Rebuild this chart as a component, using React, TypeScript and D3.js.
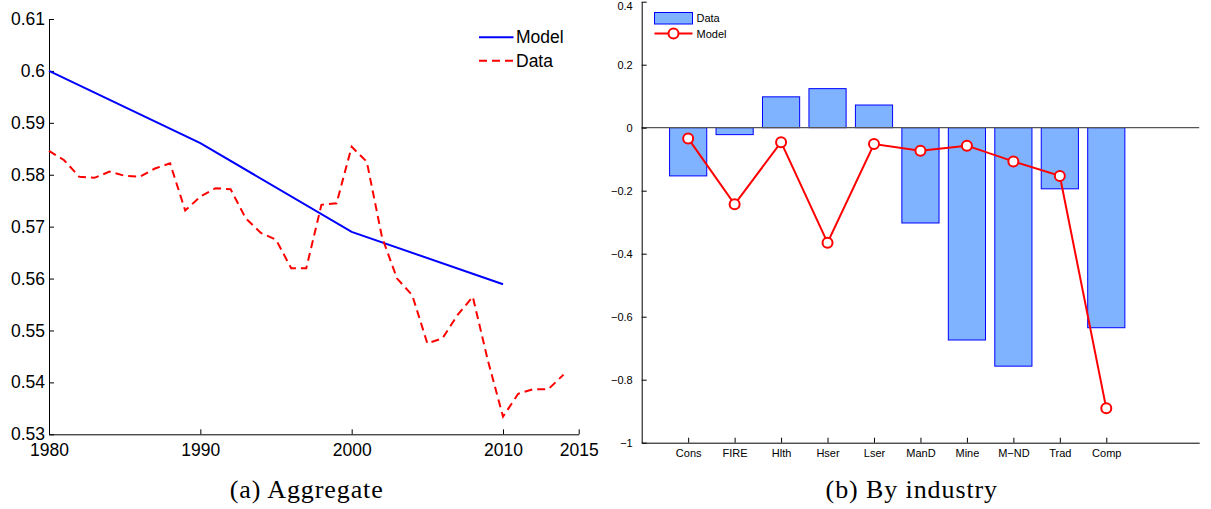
import React, { useEffect, useRef } from 'react';
import * as d3 from 'd3';

// (a) Aggregate: annual data share and model share
const dataYears = [
  1980, 1981, 1982, 1983, 1984, 1985, 1986, 1987, 1988, 1989,
  1990, 1991, 1992, 1993, 1994, 1995, 1996, 1997, 1998, 1999,
  2000, 2001, 2002, 2003, 2004, 2005, 2006, 2007, 2008, 2009,
  2010, 2011, 2012, 2013, 2014,
];
const dataShare = [
  0.5846, 0.5828, 0.5796, 0.5794, 0.5806, 0.5798, 0.5796, 0.5812, 0.5822, 0.5731,
  0.5758, 0.5774, 0.5772, 0.5716, 0.5688, 0.5675, 0.5620, 0.5620, 0.5742, 0.5745,
  0.5854, 0.5825, 0.5680, 0.5600, 0.5568, 0.5475, 0.5485, 0.5530, 0.5565, 0.5442,
  0.5334, 0.5378, 0.5387, 0.5387, 0.5415,
];
const modelYears = [1980, 1990, 2000, 2010];
const modelShare = [0.6, 0.5861, 0.569, 0.5589];
const aggXTicks = [1980, 1990, 2000, 2010, 2015];
const aggYTicks = [0.53, 0.54, 0.55, 0.56, 0.57, 0.58, 0.59, 0.6, 0.61];

// (b) By industry
const industries = ['Cons', 'FIRE', 'Hlth', 'Hser', 'Lser', 'ManD', 'Mine', 'M\u2212ND', 'Trad', 'Comp'];
const industryData = [-0.153, -0.022, 0.098, 0.124, 0.072, -0.3025, -0.674, -0.757, -0.194, -0.635];
const industryModel = [-0.034, -0.243, -0.046, -0.365, -0.052, -0.073, -0.057, -0.107, -0.153, -0.891];
const indYTicks = [0.4, 0.2, 0, -0.2, -0.4, -0.6, -0.8, -1];

const W = 1211;
const H = 509;
const SANS = '"Liberation Sans", Arial, Helvetica, sans-serif';
const SERIF = '"Liberation Serif", "Times New Roman", serif';

const App: React.FC = () => {
  const svgRef = useRef<SVGSVGElement | null>(null);

  useEffect(() => {
    if (!svgRef.current) return;
    const svg = d3.select(svgRef.current);
    svg.selectAll('*').remove();

    // ---------- left panel ----------
    const xA = d3.scaleLinear().domain([1980, 2015]).range([49, 578.7]);
    const yA = d3.scaleLinear().domain([0.53, 0.61]).range([434.3, 19]);

    const gA = svg.append('g');

    const xAxisA = gA.append('g')
      .attr('transform', `translate(0,${yA(0.53)})`)
      .call(d3.axisBottom(xA).tickValues(aggXTicks).tickFormat(d3.format('d')).tickSize(-5).tickSizeOuter(0).tickPadding(9));
    const yAxisA = gA.append('g')
      .attr('transform', `translate(${xA(1980)},0)`)
      .call(d3.axisLeft(yA).tickValues(aggYTicks).tickFormat(d3.format('~g')).tickSize(-5).tickSizeOuter(0).tickPadding(4));
    [xAxisA, yAxisA].forEach(ax => {
      ax.selectAll('text').style('font-family', SANS).style('font-size', '17.5px').attr('fill', '#000');
      ax.selectAll('path, line').attr('stroke', '#000').attr('stroke-width', 1);
    });

    const lineA = d3.line<[number, number]>().x(d => xA(d[0])).y(d => yA(d[1]));

    gA.append('path')
      .datum(modelYears.map((yr, i) => [yr, modelShare[i]] as [number, number]))
      .attr('d', lineA)
      .attr('fill', 'none')
      .attr('stroke', '#0000ff')
      .attr('stroke-width', 2);

    gA.append('path')
      .datum(dataYears.map((yr, i) => [yr, dataShare[i]] as [number, number]))
      .attr('d', lineA)
      .attr('fill', 'none')
      .attr('stroke', '#ff0000')
      .attr('stroke-width', 2)
      .attr('stroke-dasharray', '8,5');

    // legend (a)
    const legA = gA.append('g');
    const legItemsA = [
      { label: 'Model', color: '#0000ff', dash: null, y: 37.3 },
      { label: 'Data', color: '#ff0000', dash: '8,5', y: 60.7 },
    ];
    legItemsA.forEach(it => {
      legA.append('line')
        .attr('x1', 479).attr('x2', 513.5)
        .attr('y1', it.y).attr('y2', it.y)
        .attr('stroke', it.color).attr('stroke-width', 2)
        .attr('stroke-dasharray', it.dash);
      legA.append('text')
        .attr('x', 516).attr('y', it.y).attr('dy', '0.35em')
        .style('font-family', SANS).style('font-size', '17.5px')
        .text(it.label);
    });

    // ---------- right panel ----------
    const xB = d3.scaleLinear().domain([0, 12]).range([641.7, 1199.2]);
    const yB = d3.scaleLinear().domain([-1, 0.4]).range([442.7, 1.7]);
    const bw = (xB(1) - xB(0)) * 0.8;

    const gB = svg.append('g');

    // bars
    gB.selectAll('rect.bar')
      .data(industryData)
      .enter()
      .append('rect')
      .attr('class', 'bar')
      .attr('x', (_d, i) => xB(i + 1) - bw / 2)
      .attr('width', bw)
      .attr('y', d => yB(Math.max(0, d)))
      .attr('height', d => Math.abs(yB(d) - yB(0)))
      .attr('fill', '#80b3ff')
      .attr('stroke', '#0000ff')
      .attr('stroke-width', 1);

    // zero baseline
    gB.append('line')
      .attr('x1', xB(0)).attr('x2', xB(12))
      .attr('y1', yB(0)).attr('y2', yB(0))
      .attr('stroke', '#555')
      .attr('stroke-width', 1.3);

    const xAxisB = gB.append('g')
      .attr('transform', `translate(0,${yB(-1)})`)
      .call(d3.axisBottom(xB)
        .tickValues(industries.map((_n, i) => i + 1))
        .tickFormat((_d, i) => industries[i])
        .tickSize(-5).tickSizeOuter(0).tickPadding(7));
    const yAxisB = gB.append('g')
      .attr('transform', `translate(${xB(0)},0)`)
      .call(d3.axisLeft(yB).tickValues(indYTicks).tickFormat(d3.format('~g')).tickSize(-5).tickSizeOuter(0).tickPadding(9));
    [xAxisB, yAxisB].forEach(ax => {
      ax.selectAll('text').style('font-family', SANS).style('font-size', '11px').attr('fill', '#000');
      ax.selectAll('path, line').attr('stroke', '#000').attr('stroke-width', 1);
    });
    // top label sits on the page edge; nudge it just inside
    yAxisB.selectAll<SVGTextElement, number>('text')
      .filter(d => d === 0.4)
      .attr('dy', '0.75em');

    // model line with markers
    const lineB = d3.line<number>().x((_d, i) => xB(i + 1)).y(d => yB(d));
    gB.append('path')
      .datum(industryModel)
      .attr('d', lineB)
      .attr('fill', 'none')
      .attr('stroke', '#ff0000')
      .attr('stroke-width', 2);
    gB.selectAll('circle.mk')
      .data(industryModel)
      .enter()
      .append('circle')
      .attr('class', 'mk')
      .attr('cx', (_d, i) => xB(i + 1))
      .attr('cy', d => yB(d))
      .attr('r', 5)
      .attr('fill', '#fff')
      .attr('stroke', '#ff0000')
      .attr('stroke-width', 2);

    // legend (b)
    const legB = gB.append('g');
    legB.append('rect')
      .attr('x', 654.5).attr('y', 12.5).attr('width', 38).attr('height', 11.5)
      .attr('fill', '#80b3ff').attr('stroke', '#0000ff').attr('stroke-width', 1);
    legB.append('text')
      .attr('x', 696.5).attr('y', 18.3).attr('dy', '0.35em')
      .style('font-family', SANS).style('font-size', '11px')
      .text('Data');
    legB.append('line')
      .attr('x1', 654.5).attr('x2', 692.5).attr('y1', 33.5).attr('y2', 33.5)
      .attr('stroke', '#ff0000').attr('stroke-width', 2);
    legB.append('circle')
      .attr('cx', 673.5).attr('cy', 33.5).attr('r', 5)
      .attr('fill', '#fff').attr('stroke', '#ff0000').attr('stroke-width', 2);
    legB.append('text')
      .attr('x', 696.5).attr('y', 33.8).attr('dy', '0.35em')
      .style('font-family', SANS).style('font-size', '11px')
      .text('Model');

    // captions
    svg.append('text')
      .attr('x', 306.7).attr('y', 498)
      .attr('text-anchor', 'middle')
      .style('font-family', SERIF).style('font-size', '26px')
      .style('letter-spacing', '0.9px')
      .text('(a)  Aggregate');
    svg.append('text')
      .attr('x', 911.8).attr('y', 498)
      .attr('text-anchor', 'middle')
      .style('font-family', SERIF).style('font-size', '26px')
      .style('letter-spacing', '0.9px')
      .text('(b)  By industry');
  }, []);

  return (
    <svg
      ref={svgRef}
      width={W}
      height={H}
      style={{ position: 'absolute', left: 0, top: 0, background: '#fff' }}
    />
  );
};

export default App;
